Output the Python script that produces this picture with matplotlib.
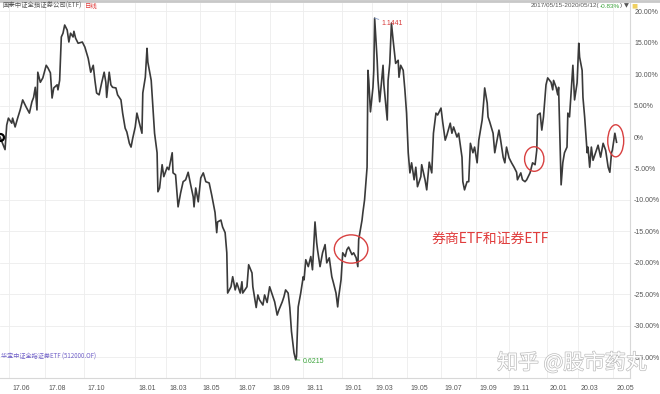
import numpy as np
import matplotlib
matplotlib.use('Agg')
import matplotlib.pyplot as plt
from matplotlib.patches import Ellipse
from matplotlib.lines import Line2D
import matplotlib.patheffects as pe
from matplotlib.transforms import offset_copy

plt.rcParams['font.family'] = ['Liberation Sans', 'Noto Sans CJK SC']

# trading-day index since 2017/05/15 and cumulative change (%)
days = [0, 6, 8, 10, 14, 15, 18, 21, 24, 27, 31, 35, 38, 40, 42, 44, 45, 48, 51, 55,
        57, 60, 62, 64, 68, 69, 71, 73, 75, 77, 80, 82, 84, 87, 88, 90, 93, 98, 101, 105,
        108, 111, 113, 115, 118, 121, 124, 126, 127, 130, 132, 134, 138, 140, 144, 146, 149, 151, 154, 156,
        158, 161, 163, 165, 169, 170, 173, 175, 176, 180, 182, 184, 187, 188, 190, 193, 195, 199, 201, 205,
        206, 209, 212, 215, 218, 221, 224, 227, 230, 231, 233, 236, 239, 242, 245, 249, 252, 256, 258, 259,
        263, 265, 268, 270, 271, 275, 277, 280, 282, 286, 288, 289, 294, 296, 300, 301, 305, 307, 309, 313,
        315, 318, 321, 325, 327, 330, 332, 336, 338, 340, 343, 345, 347, 350, 352, 353, 355, 358, 361, 362,
        364, 367, 370, 372, 375, 377, 378, 381, 384, 387, 389, 392, 395, 397, 400, 402, 403, 406, 408, 411,
        413, 415, 419, 421, 424, 426, 427, 431, 432, 434, 437, 438, 439, 441, 444, 445, 446, 449, 450, 452,
        456, 457, 461, 462, 464, 466, 468, 471, 474, 475, 477, 480, 482, 484, 486, 488, 490, 493, 495, 497,
        501, 502, 506, 508, 511, 514, 516, 519, 521, 525, 527, 530, 532, 536, 538, 540, 544, 546, 550, 551,
        553, 556, 558, 560, 563, 565, 568, 570, 574, 576, 577, 580, 581, 583, 587, 589, 591, 594, 596, 599,
        601, 603, 606, 609, 612, 615, 616, 620, 622, 625, 627, 631, 634, 637, 639, 640, 643, 645, 647, 650,
        652, 656, 658, 659, 662, 664, 665, 668, 670, 672, 675, 676, 678, 681, 682, 684, 687, 689, 690, 693,
        694, 696, 699, 700, 702, 704, 706, 709, 712, 715, 718, 721, 724, 726, 728, 729, 732, 734]
change = [0.0, -2.0, 1.9, 3.0, 2.2, 3.0, 1.6, 3.0, 4.3, 5.9, 4.8, 3.8, 5.6, 6.3, 7.9, 4.3, 10.3, 8.7, 9.4, 11.4,
          11.0, 10.2, 6.2, 7.8, 8.3, 7.5, 9.0, 15.9, 16.5, 17.8, 17.0, 15.1, 16.5, 15.9, 16.8, 15.7, 14.9, 15.1, 14.3, 12.5,
          10.3, 11.4, 9.0, 7.0, 6.7, 8.6, 10.3, 8.7, 6.3, 10.3, 8.3, 7.9, 7.8, 6.7, 5.9, 3.8, 1.4, 0.8, -1.0, -1.6,
          -0.2, 1.6, 3.8, 2.7, 0.6, 7.0, 9.5, 14.1, 11.9, 9.0, 4.8, 0.6, -2.5, -8.7, -8.1, -4.4, -6.3, -4.8, -5.2, -2.5,
          -5.7, -6.0, -11.1, -8.9, -7.1, -6.8, -5.6, -7.6, -9.5, -11.1, -8.1, -10.3, -6.5, -5.7, -7.1, -7.3, -9.2, -12.0, -15.2, -13.5,
          -13.2, -14.3, -15.2, -18.4, -24.8, -23.8, -22.2, -24.3, -23.2, -24.8, -23.0, -24.8, -23.8, -20.3, -21.6, -23.8, -27.1, -25.1, -25.9, -26.7,
          -25.1, -26.3, -23.8, -25.4, -26.2, -28.3, -27.5, -26.2, -25.4, -24.3, -24.8, -27.1, -30.9, -34.3, -35.4, -34.9, -27.0, -24.8, -22.2, -22.7,
          -19.5, -20.6, -19.0, -21.1, -13.5, -16.8, -17.9, -20.6, -18.4, -17.1, -20.0, -19.2, -22.2, -23.2, -24.8, -27.0, -25.6, -22.7, -18.4, -19.0,
          -17.9, -17.5, -18.7, -18.4, -19.2, -20.6, -16.3, -13.2, -12.0, -10.0, -4.8, 10.6, 9.0, 4.0, 7.9, 10.6, 18.9, 12.2, 9.0, 5.6,
          11.4, 8.3, 2.7, 9.0, 11.7, 18.1, 15.4, 11.7, 12.2, 9.5, 11.4, 10.6, 7.5, 3.8, -2.5, -5.7, -4.1, -6.8, -4.8, -7.9,
          -6.3, -4.4, -6.8, -8.4, -4.0, -5.7, 0.6, 3.8, 3.5, 4.6, 2.4, -0.5, 0.3, 2.2, 0.6, 1.6, 0.0, 0.6, -3.2, -7.1,
          -8.4, -7.1, -7.1, -1.0, -2.5, -1.6, -4.1, -0.5, 2.7, 5.9, 7.8, 5.4, 3.2, 2.4, 0.6, -2.5, -1.0, 1.1, -0.5, -3.2,
          -4.1, -1.6, -3.3, -4.1, -4.8, -5.6, -6.8, -5.7, -6.8, -7.1, -6.8, -5.7, -4.1, -4.4, -2.1, 3.5, 3.8, 1.1, 3.2, 8.3,
          9.4, 8.7, 7.5, 9.0, 7.9, 6.7, 7.9, -7.6, -4.1, -2.5, -1.6, 3.8, 3.2, 9.5, 11.4, 5.9, 8.6, 14.9, 12.7, 10.6,
          6.3, 3.2, -2.5, -1.6, -4.8, -1.6, -3.7, -2.5, -1.3, -3.2, -1.0, -2.1, -4.8, -5.6, -2.5, -2.1, 0.6, -0.83]

tick_days = [11, 54, 100, 161, 198, 238, 280, 321, 361, 407, 443, 485, 525, 567, 606, 651, 688, 730]
tick_labels = ['17.06', '17.08', '17.10', '18.01', '18.03', '18.05', '18.07', '18.09', '18.11',
               '19.01', '19.03', '19.05', '19.07', '19.09', '19.11', '20.01', '20.03', '20.05']
y_ticks = [20, 15, 10, 5, 0, -5, -10, -15, -20, -25, -30, -35]

peak_price = '1.1441'
trough_price = '0.6215'
period_text = '2017/05/15-2020/05/12('
period_change = '-0.83%'

# circled spots: (day, change, width in days, height in %)
circles = [(418, -17.8, 40, 4.5), (636, -3.5, 23, 3.9), (733, -0.6, 19, 5.1)]

fig = plt.figure(figsize=(6.6, 3.94), dpi=100)
ax = fig.add_axes([0, 16 / 394, 630 / 660, 375 / 394])
ax.set_xlim(0, 750)
ax.set_ylim(-38.3, 21.3)

ax.plot(days, change, color='#3a3a3a', linewidth=1.2, zorder=3)
ax.plot(days[0], change[0], 'o', mfc='none', mec='black', ms=5, mew=1.6, zorder=4)

# grid / axes
ax.set_yticks(y_ticks)
ax.set_yticklabels(['0%' if v == 0 else f'{v:.2f}%' for v in y_ticks])
ax.yaxis.tick_right()
ax.set_xticks(tick_days)
ax.set_xticklabels(tick_labels, ha='left')
ax.grid(True, color='#ededed', linewidth=0.6)
ax.tick_params(axis='both', length=0, labelsize=5, colors='#555555')
ax.tick_params(axis='y', pad=3)
ax.tick_params(axis='x', pad=5)
for lbl in ax.get_xticklabels():
    lbl.set_transform(offset_copy(lbl.get_transform(), fig=fig, x=3, y=0, units='dots'))
for s in ['top', 'left']:
    ax.spines[s].set_visible(False)
ax.spines['right'].set_color('#d8d8d8')
ax.spines['bottom'].set_color('#d8d8d8')
ax.spines['right'].set_linewidth(0.8)
ax.spines['bottom'].set_linewidth(0.8)

# max / min labels
imax = int(np.argmax(change))
imin = int(np.argmin(change))
ax.annotate(peak_price, xy=(days[imax], change[imax]), xytext=(5, -4), textcoords='offset points',
            fontsize=5, color='#d83b3b', va='center', ha='left',
            arrowprops=dict(arrowstyle='-', color='#8aa0c8', lw=0.6, shrinkA=0, shrinkB=0))
ax.annotate(trough_price, xy=(days[imin], change[imin]), xytext=(5, -1), textcoords='offset points',
            fontsize=5, color='#3aa33a', va='center', ha='left',
            arrowprops=dict(arrowstyle='-', color='#3aa33a', lw=0.6, shrinkA=0, shrinkB=0))

# red circles and comment
for cx, cy, w, h in circles:
    ax.add_patch(Ellipse((cx, cy), w, h, fill=False, edgecolor='#d84040', linewidth=1.0, zorder=5))
ax.text(583, -16.2, '券商ETF和证券ETF', fontsize=10, color='#e03c3c', ha='center', va='center',
        family=['Noto Sans CJK SC', 'DejaVu Sans'])

# header texts
fig.add_artist(Line2D([0, 1], [0.998, 0.998], color='#c8c8c8', lw=2, transform=fig.transFigure))
head_y = 1 - 6 / 394
t1 = fig.text(2 / 660, head_y, '国泰中证全指证券公司(ETF)', fontsize=4.6, color='#555555',
              va='center', ha='left', family=['Noto Sans CJK SC', 'DejaVu Sans'])
fig.canvas.draw()
x_end = fig.transFigure.inverted().transform(t1.get_window_extent().p1)[0]
fig.text(x_end + 3 / 660, head_y, '日线', fontsize=4.6, color='#e03c3c', va='center', ha='left',
         family=['Noto Sans CJK SC'])
t2 = fig.text(531 / 660, head_y, period_text, fontsize=4.6, color='#555555', va='center', ha='left')
t3 = ax.annotate(period_change, xy=(1, 0.5), xycoords=t2, xytext=(0, 0), textcoords='offset points',
                 fontsize=4.6, color='#3aa33a', va='center', ha='left')
t4 = ax.annotate(')', xy=(1, 0.5), xycoords=t3, xytext=(0, 0), textcoords='offset points',
                 fontsize=4.6, color='#555555', va='center', ha='left')
t5 = ax.annotate('▼', xy=(1, 0.5), xycoords=t4, xytext=(1.5, 0), textcoords='offset points',
                 fontsize=4.6, color='#555555', va='center', ha='left', family=['DejaVu Sans'])
ax.annotate('■', xy=(1, 0.5), xycoords=t5, xytext=(1.5, 0), textcoords='offset points',
            fontsize=4.6, color='#f0d060', va='center', ha='left', family=['DejaVu Sans'])

fig.text(1 / 660, 1 - 357 / 394, '华宝中证全指证券ETF (512000.OF)', fontsize=4.4, color='#7060c8',
         va='center', ha='left', family=['Noto Sans CJK SC', 'DejaVu Sans'])

# watermark
fig.text(572 / 660, 1 - 363 / 394, '知乎 @股市药丸', fontsize=15, color='white', ha='center', va='center',
         family=['Noto Sans CJK SC', 'DejaVu Sans'], zorder=10,
         path_effects=[pe.withStroke(linewidth=1.0, foreground='#bdbdbd')])

plt.savefig('out.png', dpi=100)
